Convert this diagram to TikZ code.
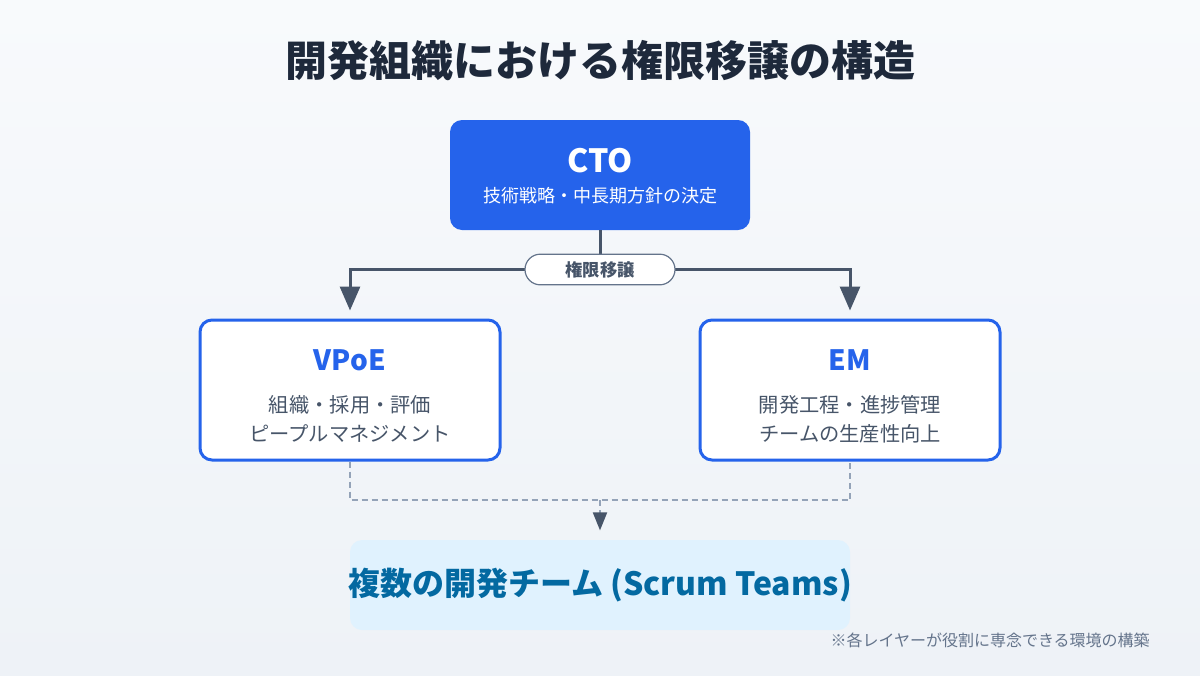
\documentclass[tikz,border=0pt]{standalone}
\usepackage{fontspec}
\setmainfont{Noto Sans CJK JP}
\usetikzlibrary{arrows.meta}
\definecolor{bgTop}{HTML}{F8FAFC}
\definecolor{bgBot}{HTML}{EEF2F7}
\definecolor{ctoBlue}{HTML}{2563EB}
\definecolor{titleDark}{HTML}{1E293B}
\definecolor{slateA}{HTML}{475569}
\definecolor{slateB}{HTML}{64748B}
\definecolor{slateC}{HTML}{94A3B8}
\definecolor{teamFill}{HTML}{E0F2FE}
\definecolor{teamText}{HTML}{0369A1}
\tikzset{
  rolebox/.style={draw=ctoBlue, line width=2.25pt, fill=white, rounded corners=9pt,
    minimum width=225pt, minimum height=105pt, inner sep=0pt},
  ctobox/.style={fill=ctoBlue, rounded corners=9pt, minimum width=225pt,
    minimum height=82.5pt, inner sep=0pt},
  teambox/.style={fill=teamFill, rounded corners=9pt, minimum width=375pt,
    minimum height=67.5pt, inner sep=0pt},
  pillbox/.style={draw=slateB, line width=0.9pt, fill=white, rounded corners=11.5pt,
    minimum width=112.5pt, minimum height=23pt, inner sep=0pt,
    font=\bfseries\fontsize{13pt}{15pt}\selectfont, text=slateA},
  roletitle/.style={inner sep=0pt, font=\bfseries\fontsize{21pt}{24pt}\selectfont, text=ctoBlue},
  roletext/.style={inner sep=0pt, font=\fontsize{15.2pt}{18pt}\selectfont, text=slateA},
  conn/.style={draw=slateA, line width=2.25pt},
  connarrow/.style={conn, -{Triangle[width=15pt,length=18pt]}, shorten >=6pt},
  dashline/.style={draw=slateC, line width=1.5pt, dash pattern=on 4.5pt off 3pt},
}
\begin{document}
\begin{tikzpicture}[x=0.75pt,y=-0.75pt]
\useasboundingbox (0,0) rectangle (1200,675);
\shade[top color=bgTop, bottom color=bgBot] (0,0) rectangle (1200,675);

% title
\node[inner sep=0pt, text=titleDark, font=\bfseries\fontsize{31.5pt}{36pt}\selectfont] (title) at (600,61) {開発組織における権限移譲の構造};

% boxes
\node[ctobox] (cto) at (600,175) {};
\node[inner sep=0pt, text=white, font=\bfseries\fontsize{24pt}{28pt}\selectfont] (ctoname) at (600,160.5) {CTO};
\node[inner sep=0pt, text=white, font=\fontsize{13.5pt}{16pt}\selectfont] (ctodesc) at (600,196) {技術戦略・中長期方針の決定};

\node[rolebox] (vpoe) at (350,390) {};
\node[roletitle] (vpoename) at (350,360.5) {VPoE};
\node[roletext] (vpoe1) at (350,405) {組織・採用・評価};
\node[roletext] (vpoe2) at (350,433.5) {ピープルマネジメント};

\node[rolebox] (em) at (850,390) {};
\node[roletitle] (emname) at (850,360.5) {EM};
\node[roletext] (em1) at (850,405) {開発工程・進捗管理};
\node[roletext] (em2) at (850,433.5) {チームの生産性向上};

\node[teambox] (teams) at (600,585) {};
\node[inner sep=0pt, text=teamText, font=\bfseries\fontsize{24pt}{28pt}\selectfont] (teamsname) at (600,585) {複数の開発チーム (Scrum Teams)};

% connectors
\coordinate (j) at (600,269);
\draw[conn] (cto.south) -- (j);
\draw[connarrow] (j) -| (vpoe.north);
\draw[connarrow] (j) -| (em.north);
\node[pillbox] (pill) at (600,269.5) {権限移譲};

\coordinate (m) at (600,500);
\draw[dashline] (vpoe.south) |- (m) -| (em.south);
\draw[dashline, -{Triangle[width=10.5pt,length=13.5pt,color=slateA]}, shorten >=7pt] (m) -- (teams.north);

% footnote
\node[inner sep=0pt, anchor=east, text=slateB, font=\fontsize{12pt}{14pt}\selectfont] (note) at (1150,640) {※各レイヤーが役割に専念できる環境の構築};
\end{tikzpicture}
\end{document}
